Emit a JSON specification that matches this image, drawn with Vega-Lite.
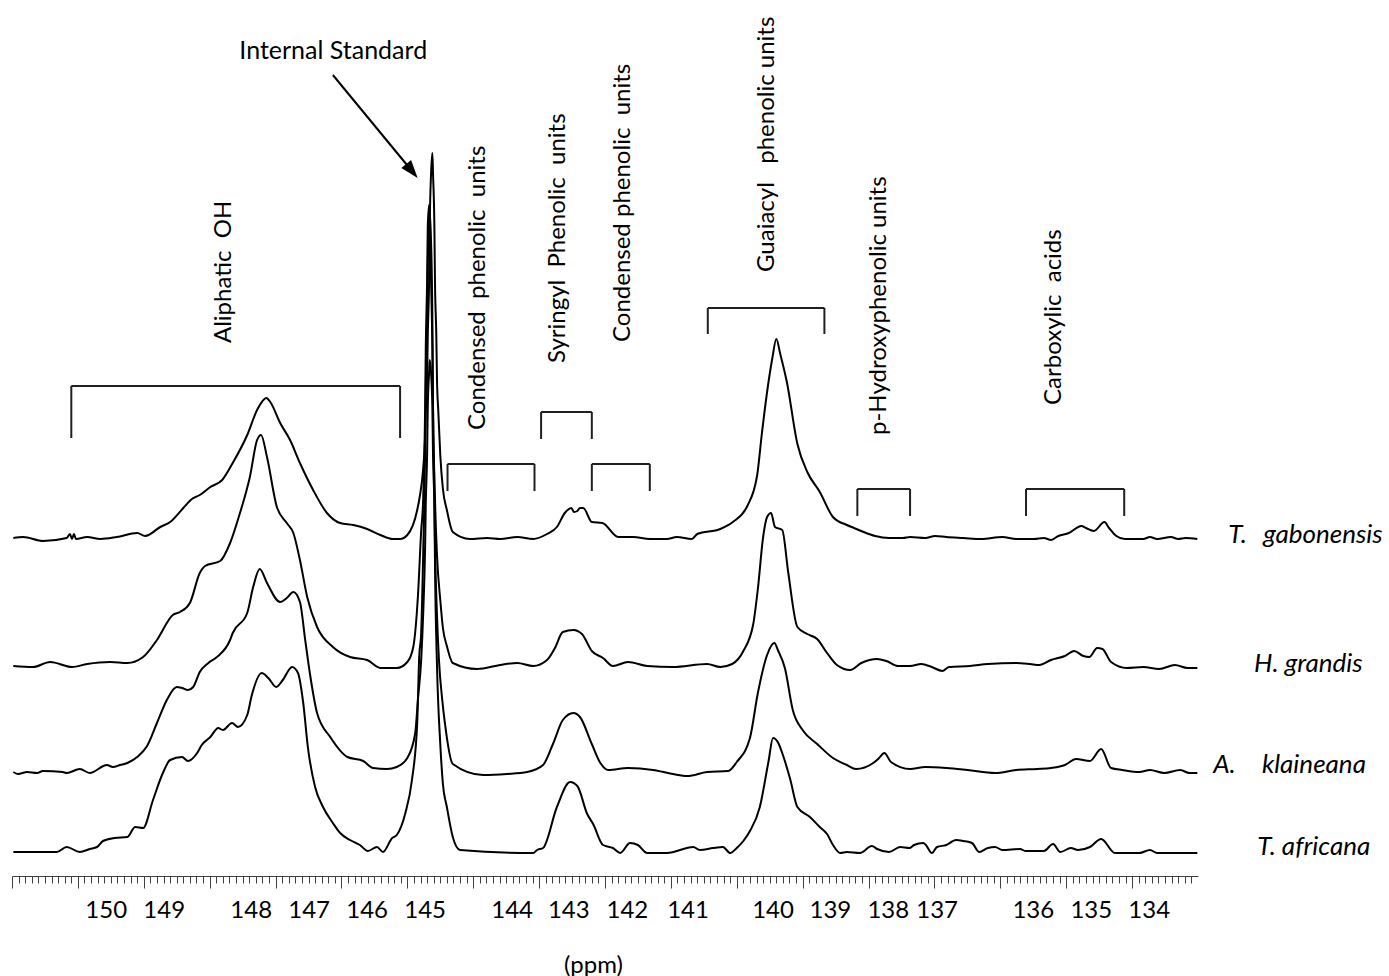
{
  "$schema": "https://vega.github.io/schema/vega-lite/v6.json",
  "width": 1186,
  "height": 876,
  "autosize": {"type": "none"},
  "padding": {"left": 12, "top": 0, "right": 191, "bottom": 100},
  "background": "white",
  "config": {"view": {"stroke": null}},
  "datasets": {
    "spectra": [
      {"sample":"T. gabonensis","ppm":151.38,"intensity":338},{"sample":"T. gabonensis","ppm":151.23,"intensity":339},{"sample":"T. gabonensis","ppm":150.93,"intensity":335},{"sample":"T. gabonensis","ppm":150.57,"intensity":338},{"sample":"T. gabonensis","ppm":150.52,"intensity":342},{"sample":"T. gabonensis","ppm":150.49,"intensity":337},{"sample":"T. gabonensis","ppm":150.46,"intensity":342},{"sample":"T. gabonensis","ppm":150.43,"intensity":337},{"sample":"T. gabonensis","ppm":150.26,"intensity":339},{"sample":"T. gabonensis","ppm":150.06,"intensity":337},{"sample":"T. gabonensis","ppm":149.81,"intensity":339},{"sample":"T. gabonensis","ppm":149.50,"intensity":343},{"sample":"T. gabonensis","ppm":149.38,"intensity":340},{"sample":"T. gabonensis","ppm":149.15,"intensity":349},{"sample":"T. gabonensis","ppm":149.00,"intensity":354},{"sample":"T. gabonensis","ppm":148.80,"intensity":368},{"sample":"T. gabonensis","ppm":148.67,"intensity":377},{"sample":"T. gabonensis","ppm":148.55,"intensity":381},{"sample":"T. gabonensis","ppm":148.39,"intensity":389},{"sample":"T. gabonensis","ppm":148.21,"intensity":396},{"sample":"T. gabonensis","ppm":148.05,"intensity":413},{"sample":"T. gabonensis","ppm":147.83,"intensity":441},{"sample":"T. gabonensis","ppm":147.68,"intensity":466},{"sample":"T. gabonensis","ppm":147.54,"intensity":478},{"sample":"T. gabonensis","ppm":147.48,"intensity":474},{"sample":"T. gabonensis","ppm":147.33,"intensity":453},{"sample":"T. gabonensis","ppm":147.18,"intensity":436},{"sample":"T. gabonensis","ppm":147.03,"intensity":413},{"sample":"T. gabonensis","ppm":146.83,"intensity":386},{"sample":"T. gabonensis","ppm":146.62,"intensity":363},{"sample":"T. gabonensis","ppm":146.42,"intensity":353},{"sample":"T. gabonensis","ppm":146.22,"intensity":351},{"sample":"T. gabonensis","ppm":146.01,"intensity":347},{"sample":"T. gabonensis","ppm":145.81,"intensity":341},{"sample":"T. gabonensis","ppm":145.62,"intensity":337},{"sample":"T. gabonensis","ppm":145.51,"intensity":337},{"sample":"T. gabonensis","ppm":145.40,"intensity":341},{"sample":"T. gabonensis","ppm":145.25,"intensity":366},{"sample":"T. gabonensis","ppm":145.21,"intensity":380},{"sample":"T. gabonensis","ppm":145.16,"intensity":407},{"sample":"T. gabonensis","ppm":145.13,"intensity":440},{"sample":"T. gabonensis","ppm":145.12,"intensity":465},{"sample":"T. gabonensis","ppm":145.10,"intensity":497},{"sample":"T. gabonensis","ppm":145.09,"intensity":540},{"sample":"T. gabonensis","ppm":145.07,"intensity":593},{"sample":"T. gabonensis","ppm":145.06,"intensity":652},{"sample":"T. gabonensis","ppm":145.04,"intensity":702},{"sample":"T. gabonensis","ppm":145.02,"intensity":723},{"sample":"T. gabonensis","ppm":145.01,"intensity":702},{"sample":"T. gabonensis","ppm":144.99,"intensity":652},{"sample":"T. gabonensis","ppm":144.98,"intensity":593},{"sample":"T. gabonensis","ppm":144.96,"intensity":540},{"sample":"T. gabonensis","ppm":144.95,"intensity":497},{"sample":"T. gabonensis","ppm":144.93,"intensity":465},{"sample":"T. gabonensis","ppm":144.90,"intensity":421},{"sample":"T. gabonensis","ppm":144.86,"intensity":387},{"sample":"T. gabonensis","ppm":144.80,"intensity":366},{"sample":"T. gabonensis","ppm":144.71,"intensity":344},{"sample":"T. gabonensis","ppm":144.45,"intensity":337},{"sample":"T. gabonensis","ppm":144.19,"intensity":338},{"sample":"T. gabonensis","ppm":143.99,"intensity":337},{"sample":"T. gabonensis","ppm":143.73,"intensity":339},{"sample":"T. gabonensis","ppm":143.49,"intensity":337},{"sample":"T. gabonensis","ppm":143.28,"intensity":342},{"sample":"T. gabonensis","ppm":143.13,"intensity":349},{"sample":"T. gabonensis","ppm":143.01,"intensity":363},{"sample":"T. gabonensis","ppm":142.91,"intensity":368},{"sample":"T. gabonensis","ppm":142.87,"intensity":364},{"sample":"T. gabonensis","ppm":142.82,"intensity":365},{"sample":"T. gabonensis","ppm":142.78,"intensity":368},{"sample":"T. gabonensis","ppm":142.73,"intensity":368},{"sample":"T. gabonensis","ppm":142.60,"intensity":354},{"sample":"T. gabonensis","ppm":142.44,"intensity":353},{"sample":"T. gabonensis","ppm":142.20,"intensity":339},{"sample":"T. gabonensis","ppm":141.97,"intensity":339},{"sample":"T. gabonensis","ppm":141.72,"intensity":337},{"sample":"T. gabonensis","ppm":141.46,"intensity":337},{"sample":"T. gabonensis","ppm":141.31,"intensity":339},{"sample":"T. gabonensis","ppm":141.08,"intensity":337},{"sample":"T. gabonensis","ppm":141.00,"intensity":342},{"sample":"T. gabonensis","ppm":140.65,"intensity":347},{"sample":"T. gabonensis","ppm":140.46,"intensity":354},{"sample":"T. gabonensis","ppm":140.24,"intensity":370},{"sample":"T. gabonensis","ppm":140.09,"intensity":401},{"sample":"T. gabonensis","ppm":140.02,"intensity":442},{"sample":"T. gabonensis","ppm":139.94,"intensity":484},{"sample":"T. gabonensis","ppm":139.86,"intensity":518},{"sample":"T. gabonensis","ppm":139.80,"intensity":537},{"sample":"T. gabonensis","ppm":139.74,"intensity":522},{"sample":"T. gabonensis","ppm":139.64,"intensity":494},{"sample":"T. gabonensis","ppm":139.48,"intensity":432},{"sample":"T. gabonensis","ppm":139.33,"intensity":404},{"sample":"T. gabonensis","ppm":139.14,"intensity":384},{"sample":"T. gabonensis","ppm":138.94,"intensity":359},{"sample":"T. gabonensis","ppm":138.73,"intensity":351},{"sample":"T. gabonensis","ppm":138.62,"intensity":348},{"sample":"T. gabonensis","ppm":138.51,"intensity":345},{"sample":"T. gabonensis","ppm":138.30,"intensity":340},{"sample":"T. gabonensis","ppm":138.09,"intensity":338},{"sample":"T. gabonensis","ppm":137.88,"intensity":338},{"sample":"T. gabonensis","ppm":137.77,"intensity":339},{"sample":"T. gabonensis","ppm":137.54,"intensity":338},{"sample":"T. gabonensis","ppm":137.39,"intensity":340},{"sample":"T. gabonensis","ppm":137.22,"intensity":339},{"sample":"T. gabonensis","ppm":136.96,"intensity":338},{"sample":"T. gabonensis","ppm":136.69,"intensity":337},{"sample":"T. gabonensis","ppm":136.37,"intensity":339},{"sample":"T. gabonensis","ppm":136.16,"intensity":337},{"sample":"T. gabonensis","ppm":135.89,"intensity":337},{"sample":"T. gabonensis","ppm":135.74,"intensity":338},{"sample":"T. gabonensis","ppm":135.63,"intensity":336},{"sample":"T. gabonensis","ppm":135.52,"intensity":340},{"sample":"T. gabonensis","ppm":135.36,"intensity":343},{"sample":"T. gabonensis","ppm":135.17,"intensity":350},{"sample":"T. gabonensis","ppm":135.10,"intensity":348},{"sample":"T. gabonensis","ppm":134.98,"intensity":345},{"sample":"T. gabonensis","ppm":134.82,"intensity":354},{"sample":"T. gabonensis","ppm":134.75,"intensity":348},{"sample":"T. gabonensis","ppm":134.64,"intensity":340},{"sample":"T. gabonensis","ppm":134.51,"intensity":337},{"sample":"T. gabonensis","ppm":134.23,"intensity":337},{"sample":"T. gabonensis","ppm":134.13,"intensity":339},{"sample":"T. gabonensis","ppm":134.02,"intensity":337},{"sample":"T. gabonensis","ppm":133.81,"intensity":339},{"sample":"T. gabonensis","ppm":133.70,"intensity":337},{"sample":"T. gabonensis","ppm":133.59,"intensity":338},{"sample":"T. gabonensis","ppm":133.41,"intensity":337},

      {"sample":"H. grandis","ppm":151.38,"intensity":210},{"sample":"H. grandis","ppm":151.08,"intensity":209},{"sample":"H. grandis","ppm":150.82,"intensity":214},{"sample":"H. grandis","ppm":150.49,"intensity":209},{"sample":"H. grandis","ppm":150.26,"intensity":212},{"sample":"H. grandis","ppm":149.91,"intensity":214},{"sample":"H. grandis","ppm":149.65,"intensity":213},{"sample":"H. grandis","ppm":149.41,"intensity":219},{"sample":"H. grandis","ppm":149.20,"intensity":236},{"sample":"H. grandis","ppm":148.96,"intensity":261},{"sample":"H. grandis","ppm":148.85,"intensity":264},{"sample":"H. grandis","ppm":148.70,"intensity":273},{"sample":"H. grandis","ppm":148.55,"intensity":303},{"sample":"H. grandis","ppm":148.47,"intensity":310},{"sample":"H. grandis","ppm":148.24,"intensity":315},{"sample":"H. grandis","ppm":148.09,"intensity":333},{"sample":"H. grandis","ppm":147.94,"intensity":363},{"sample":"H. grandis","ppm":147.79,"intensity":399},{"sample":"H. grandis","ppm":147.68,"intensity":436},{"sample":"H. grandis","ppm":147.62,"intensity":441},{"sample":"H. grandis","ppm":147.53,"intensity":419},{"sample":"H. grandis","ppm":147.38,"intensity":369},{"sample":"H. grandis","ppm":147.23,"intensity":353},{"sample":"H. grandis","ppm":147.13,"intensity":343},{"sample":"H. grandis","ppm":147.03,"intensity":316},{"sample":"H. grandis","ppm":146.92,"intensity":279},{"sample":"H. grandis","ppm":146.77,"intensity":249},{"sample":"H. grandis","ppm":146.53,"intensity":229},{"sample":"H. grandis","ppm":146.27,"intensity":219},{"sample":"H. grandis","ppm":146.01,"intensity":216},{"sample":"H. grandis","ppm":145.81,"intensity":208},{"sample":"H. grandis","ppm":145.56,"intensity":208},{"sample":"H. grandis","ppm":145.40,"intensity":214},{"sample":"H. grandis","ppm":145.31,"intensity":229},{"sample":"H. grandis","ppm":145.24,"intensity":279},{"sample":"H. grandis","ppm":145.19,"intensity":345},{"sample":"H. grandis","ppm":145.16,"intensity":376},{"sample":"H. grandis","ppm":145.13,"intensity":468},{"sample":"H. grandis","ppm":145.12,"intensity":529},{"sample":"H. grandis","ppm":145.10,"intensity":595},{"sample":"H. grandis","ppm":145.09,"intensity":649},{"sample":"H. grandis","ppm":145.07,"intensity":671},{"sample":"H. grandis","ppm":145.06,"intensity":649},{"sample":"H. grandis","ppm":145.04,"intensity":595},{"sample":"H. grandis","ppm":145.02,"intensity":529},{"sample":"H. grandis","ppm":145.01,"intensity":468},{"sample":"H. grandis","ppm":144.98,"intensity":376},{"sample":"H. grandis","ppm":144.95,"intensity":321},{"sample":"H. grandis","ppm":144.90,"intensity":276},{"sample":"H. grandis","ppm":144.86,"intensity":248},{"sample":"H. grandis","ppm":144.80,"intensity":230},{"sample":"H. grandis","ppm":144.71,"intensity":213},{"sample":"H. grandis","ppm":144.34,"intensity":207},{"sample":"H. grandis","ppm":143.99,"intensity":211},{"sample":"H. grandis","ppm":143.73,"intensity":213},{"sample":"H. grandis","ppm":143.49,"intensity":210},{"sample":"H. grandis","ppm":143.28,"intensity":216},{"sample":"H. grandis","ppm":143.16,"intensity":228},{"sample":"H. grandis","ppm":143.04,"intensity":244},{"sample":"H. grandis","ppm":142.88,"intensity":246},{"sample":"H. grandis","ppm":142.75,"intensity":242},{"sample":"H. grandis","ppm":142.60,"intensity":225},{"sample":"H. grandis","ppm":142.43,"intensity":218},{"sample":"H. grandis","ppm":142.28,"intensity":210},{"sample":"H. grandis","ppm":142.05,"intensity":214},{"sample":"H. grandis","ppm":141.76,"intensity":210},{"sample":"H. grandis","ppm":141.37,"intensity":209},{"sample":"H. grandis","ppm":140.85,"intensity":212},{"sample":"H. grandis","ppm":140.65,"intensity":209},{"sample":"H. grandis","ppm":140.47,"intensity":212},{"sample":"H. grandis","ppm":140.30,"intensity":225},{"sample":"H. grandis","ppm":140.15,"intensity":252},{"sample":"H. grandis","ppm":140.08,"intensity":287},{"sample":"H. grandis","ppm":140.00,"intensity":339},{"sample":"H. grandis","ppm":139.94,"intensity":359},{"sample":"H. grandis","ppm":139.88,"intensity":363},{"sample":"H. grandis","ppm":139.82,"intensity":349},{"sample":"H. grandis","ppm":139.71,"intensity":346},{"sample":"H. grandis","ppm":139.62,"intensity":304},{"sample":"H. grandis","ppm":139.48,"intensity":249},{"sample":"H. grandis","ppm":139.33,"intensity":242},{"sample":"H. grandis","ppm":139.18,"intensity":237},{"sample":"H. grandis","ppm":139.03,"intensity":223},{"sample":"H. grandis","ppm":138.88,"intensity":211},{"sample":"H. grandis","ppm":138.68,"intensity":206},{"sample":"H. grandis","ppm":138.51,"intensity":213},{"sample":"H. grandis","ppm":138.27,"intensity":217},{"sample":"H. grandis","ppm":138.13,"intensity":215},{"sample":"H. grandis","ppm":137.95,"intensity":210},{"sample":"H. grandis","ppm":137.77,"intensity":210},{"sample":"H. grandis","ppm":137.60,"intensity":212},{"sample":"H. grandis","ppm":137.44,"intensity":209},{"sample":"H. grandis","ppm":137.28,"intensity":205},{"sample":"H. grandis","ppm":137.18,"intensity":209},{"sample":"H. grandis","ppm":136.86,"intensity":210},{"sample":"H. grandis","ppm":136.59,"intensity":212},{"sample":"H. grandis","ppm":136.16,"intensity":213},{"sample":"H. grandis","ppm":135.95,"intensity":212},{"sample":"H. grandis","ppm":135.81,"intensity":211},{"sample":"H. grandis","ppm":135.63,"intensity":216},{"sample":"H. grandis","ppm":135.42,"intensity":220},{"sample":"H. grandis","ppm":135.28,"intensity":225},{"sample":"H. grandis","ppm":135.14,"intensity":220},{"sample":"H. grandis","ppm":135.05,"intensity":219},{"sample":"H. grandis","ppm":134.93,"intensity":228},{"sample":"H. grandis","ppm":134.85,"intensity":227},{"sample":"H. grandis","ppm":134.72,"intensity":214},{"sample":"H. grandis","ppm":134.48,"intensity":208},{"sample":"H. grandis","ppm":134.23,"intensity":209},{"sample":"H. grandis","ppm":133.99,"intensity":207},{"sample":"H. grandis","ppm":133.75,"intensity":211},{"sample":"H. grandis","ppm":133.56,"intensity":208},{"sample":"H. grandis","ppm":133.41,"intensity":208},

      {"sample":"A. klaineana","ppm":151.38,"intensity":104},{"sample":"A. klaineana","ppm":151.31,"intensity":102},{"sample":"A. klaineana","ppm":151.17,"intensity":104},{"sample":"A. klaineana","ppm":151.02,"intensity":103},{"sample":"A. klaineana","ppm":150.93,"intensity":105},{"sample":"A. klaineana","ppm":150.63,"intensity":104},{"sample":"A. klaineana","ppm":150.57,"intensity":103},{"sample":"A. klaineana","ppm":150.37,"intensity":107},{"sample":"A. klaineana","ppm":150.22,"intensity":103},{"sample":"A. klaineana","ppm":149.96,"intensity":111},{"sample":"A. klaineana","ppm":149.87,"intensity":109},{"sample":"A. klaineana","ppm":149.76,"intensity":111},{"sample":"A. klaineana","ppm":149.65,"intensity":113},{"sample":"A. klaineana","ppm":149.50,"intensity":119},{"sample":"A. klaineana","ppm":149.35,"intensity":130},{"sample":"A. klaineana","ppm":149.20,"intensity":153},{"sample":"A. klaineana","ppm":149.05,"intensity":176},{"sample":"A. klaineana","ppm":148.90,"intensity":189},{"sample":"A. klaineana","ppm":148.82,"intensity":188},{"sample":"A. klaineana","ppm":148.73,"intensity":186},{"sample":"A. klaineana","ppm":148.65,"intensity":189},{"sample":"A. klaineana","ppm":148.55,"intensity":204},{"sample":"A. klaineana","ppm":148.42,"intensity":213},{"sample":"A. klaineana","ppm":148.29,"intensity":219},{"sample":"A. klaineana","ppm":148.09,"intensity":236},{"sample":"A. klaineana","ppm":148.05,"intensity":243},{"sample":"A. klaineana","ppm":147.83,"intensity":263},{"sample":"A. klaineana","ppm":147.74,"intensity":289},{"sample":"A. klaineana","ppm":147.64,"intensity":307},{"sample":"A. klaineana","ppm":147.53,"intensity":293},{"sample":"A. klaineana","ppm":147.33,"intensity":274},{"sample":"A. klaineana","ppm":147.23,"intensity":278},{"sample":"A. klaineana","ppm":147.13,"intensity":284},{"sample":"A. klaineana","ppm":147.03,"intensity":274},{"sample":"A. klaineana","ppm":146.95,"intensity":236},{"sample":"A. klaineana","ppm":146.88,"intensity":203},{"sample":"A. klaineana","ppm":146.77,"intensity":163},{"sample":"A. klaineana","ppm":146.57,"intensity":139},{"sample":"A. klaineana","ppm":146.31,"intensity":119},{"sample":"A. klaineana","ppm":146.07,"intensity":115},{"sample":"A. klaineana","ppm":145.92,"intensity":108},{"sample":"A. klaineana","ppm":145.71,"intensity":107},{"sample":"A. klaineana","ppm":145.56,"intensity":109},{"sample":"A. klaineana","ppm":145.40,"intensity":118},{"sample":"A. klaineana","ppm":145.28,"intensity":143},{"sample":"A. klaineana","ppm":145.24,"intensity":176},{"sample":"A. klaineana","ppm":145.19,"intensity":216},{"sample":"A. klaineana","ppm":145.16,"intensity":261},{"sample":"A. klaineana","ppm":145.13,"intensity":330},{"sample":"A. klaineana","ppm":145.12,"intensity":373},{"sample":"A. klaineana","ppm":145.10,"intensity":421},{"sample":"A. klaineana","ppm":145.09,"intensity":468},{"sample":"A. klaineana","ppm":145.07,"intensity":503},{"sample":"A. klaineana","ppm":145.06,"intensity":516},{"sample":"A. klaineana","ppm":145.04,"intensity":503},{"sample":"A. klaineana","ppm":145.02,"intensity":468},{"sample":"A. klaineana","ppm":145.01,"intensity":421},{"sample":"A. klaineana","ppm":144.99,"intensity":373},{"sample":"A. klaineana","ppm":144.98,"intensity":330},{"sample":"A. klaineana","ppm":144.95,"intensity":261},{"sample":"A. klaineana","ppm":144.92,"intensity":216},{"sample":"A. klaineana","ppm":144.87,"intensity":176},{"sample":"A. klaineana","ppm":144.83,"intensity":153},{"sample":"A. klaineana","ppm":144.71,"intensity":112},{"sample":"A. klaineana","ppm":144.25,"intensity":101},{"sample":"A. klaineana","ppm":143.89,"intensity":102},{"sample":"A. klaineana","ppm":143.58,"intensity":104},{"sample":"A. klaineana","ppm":143.34,"intensity":111},{"sample":"A. klaineana","ppm":143.19,"intensity":132},{"sample":"A. klaineana","ppm":143.04,"intensity":156},{"sample":"A. klaineana","ppm":142.88,"intensity":163},{"sample":"A. klaineana","ppm":142.78,"intensity":159},{"sample":"A. klaineana","ppm":142.60,"intensity":132},{"sample":"A. klaineana","ppm":142.47,"intensity":113},{"sample":"A. klaineana","ppm":142.35,"intensity":106},{"sample":"A. klaineana","ppm":142.05,"intensity":108},{"sample":"A. klaineana","ppm":141.67,"intensity":106},{"sample":"A. klaineana","ppm":141.37,"intensity":102},{"sample":"A. klaineana","ppm":141.15,"intensity":100},{"sample":"A. klaineana","ppm":140.85,"intensity":104},{"sample":"A. klaineana","ppm":140.53,"intensity":105},{"sample":"A. klaineana","ppm":140.40,"intensity":114},{"sample":"A. klaineana","ppm":140.20,"intensity":138},{"sample":"A. klaineana","ppm":140.08,"intensity":183},{"sample":"A. klaineana","ppm":139.94,"intensity":221},{"sample":"A. klaineana","ppm":139.83,"intensity":233},{"sample":"A. klaineana","ppm":139.77,"intensity":225},{"sample":"A. klaineana","ppm":139.67,"intensity":208},{"sample":"A. klaineana","ppm":139.55,"intensity":166},{"sample":"A. klaineana","ppm":139.39,"intensity":145},{"sample":"A. klaineana","ppm":139.18,"intensity":132},{"sample":"A. klaineana","ppm":138.94,"intensity":118},{"sample":"A. klaineana","ppm":138.73,"intensity":111},{"sample":"A. klaineana","ppm":138.59,"intensity":107},{"sample":"A. klaineana","ppm":138.33,"intensity":113},{"sample":"A. klaineana","ppm":138.24,"intensity":118},{"sample":"A. klaineana","ppm":138.16,"intensity":123},{"sample":"A. klaineana","ppm":138.06,"intensity":114},{"sample":"A. klaineana","ppm":137.77,"intensity":107},{"sample":"A. klaineana","ppm":137.54,"intensity":109},{"sample":"A. klaineana","ppm":137.22,"intensity":108},{"sample":"A. klaineana","ppm":136.90,"intensity":106},{"sample":"A. klaineana","ppm":136.48,"intensity":103},{"sample":"A. klaineana","ppm":136.16,"intensity":106},{"sample":"A. klaineana","ppm":135.84,"intensity":107},{"sample":"A. klaineana","ppm":135.63,"intensity":108},{"sample":"A. klaineana","ppm":135.42,"intensity":111},{"sample":"A. klaineana","ppm":135.25,"intensity":117},{"sample":"A. klaineana","ppm":135.04,"intensity":115},{"sample":"A. klaineana","ppm":134.87,"intensity":127},{"sample":"A. klaineana","ppm":134.72,"intensity":108},{"sample":"A. klaineana","ppm":134.55,"intensity":106},{"sample":"A. klaineana","ppm":134.29,"intensity":104},{"sample":"A. klaineana","ppm":134.13,"intensity":106},{"sample":"A. klaineana","ppm":133.91,"intensity":103},{"sample":"A. klaineana","ppm":133.67,"intensity":106},{"sample":"A. klaineana","ppm":133.53,"intensity":103},{"sample":"A. klaineana","ppm":133.41,"intensity":103},

      {"sample":"T. africana","ppm":151.38,"intensity":24},{"sample":"T. africana","ppm":150.72,"intensity":24},{"sample":"T. africana","ppm":150.57,"intensity":29},{"sample":"T. africana","ppm":150.37,"intensity":24},{"sample":"T. africana","ppm":150.22,"intensity":27},{"sample":"T. africana","ppm":150.11,"intensity":29},{"sample":"T. africana","ppm":150.02,"intensity":35},{"sample":"T. africana","ppm":149.84,"intensity":38},{"sample":"T. africana","ppm":149.65,"intensity":39},{"sample":"T. africana","ppm":149.53,"intensity":49},{"sample":"T. africana","ppm":149.41,"intensity":48},{"sample":"T. africana","ppm":149.26,"intensity":76},{"sample":"T. africana","ppm":149.11,"intensity":103},{"sample":"T. africana","ppm":149.00,"intensity":116},{"sample":"T. africana","ppm":148.82,"intensity":119},{"sample":"T. africana","ppm":148.73,"intensity":115},{"sample":"T. africana","ppm":148.59,"intensity":123},{"sample":"T. africana","ppm":148.52,"intensity":131},{"sample":"T. africana","ppm":148.39,"intensity":139},{"sample":"T. africana","ppm":148.27,"intensity":148},{"sample":"T. africana","ppm":148.20,"intensity":146},{"sample":"T. africana","ppm":148.06,"intensity":153},{"sample":"T. africana","ppm":147.97,"intensity":149},{"sample":"T. africana","ppm":147.83,"intensity":161},{"sample":"T. africana","ppm":147.76,"intensity":181},{"sample":"T. africana","ppm":147.61,"intensity":203},{"sample":"T. africana","ppm":147.51,"intensity":198},{"sample":"T. africana","ppm":147.39,"intensity":189},{"sample":"T. africana","ppm":147.29,"intensity":196},{"sample":"T. africana","ppm":147.15,"intensity":209},{"sample":"T. africana","ppm":147.06,"intensity":203},{"sample":"T. africana","ppm":146.98,"intensity":173},{"sample":"T. africana","ppm":146.91,"intensity":129},{"sample":"T. africana","ppm":146.80,"intensity":89},{"sample":"T. africana","ppm":146.68,"intensity":69},{"sample":"T. africana","ppm":146.53,"intensity":53},{"sample":"T. africana","ppm":146.42,"intensity":43},{"sample":"T. africana","ppm":146.27,"intensity":36},{"sample":"T. africana","ppm":146.12,"intensity":31},{"sample":"T. africana","ppm":146.00,"intensity":25},{"sample":"T. africana","ppm":145.86,"intensity":29},{"sample":"T. africana","ppm":145.77,"intensity":24},{"sample":"T. africana","ppm":145.63,"intensity":38},{"sample":"T. africana","ppm":145.56,"intensity":41},{"sample":"T. africana","ppm":145.43,"intensity":63},{"sample":"T. africana","ppm":145.33,"intensity":96},{"sample":"T. africana","ppm":145.25,"intensity":153},{"sample":"T. africana","ppm":145.22,"intensity":219},{"sample":"T. africana","ppm":145.19,"intensity":243},{"sample":"T. africana","ppm":145.16,"intensity":320},{"sample":"T. africana","ppm":145.13,"intensity":426},{"sample":"T. africana","ppm":145.12,"intensity":488},{"sample":"T. africana","ppm":145.10,"intensity":552},{"sample":"T. africana","ppm":145.09,"intensity":609},{"sample":"T. africana","ppm":145.07,"intensity":649},{"sample":"T. africana","ppm":145.06,"intensity":664},{"sample":"T. africana","ppm":145.04,"intensity":634},{"sample":"T. africana","ppm":145.02,"intensity":558},{"sample":"T. africana","ppm":145.01,"intensity":467},{"sample":"T. africana","ppm":144.99,"intensity":382},{"sample":"T. africana","ppm":144.98,"intensity":311},{"sample":"T. africana","ppm":144.95,"intensity":211},{"sample":"T. africana","ppm":144.90,"intensity":132},{"sample":"T. africana","ppm":144.86,"intensity":92},{"sample":"T. africana","ppm":144.80,"intensity":69},{"sample":"T. africana","ppm":144.71,"intensity":39},{"sample":"T. africana","ppm":144.60,"intensity":26},{"sample":"T. africana","ppm":143.49,"intensity":23},{"sample":"T. africana","ppm":143.43,"intensity":26},{"sample":"T. africana","ppm":143.34,"intensity":28},{"sample":"T. africana","ppm":143.13,"intensity":69},{"sample":"T. africana","ppm":142.93,"intensity":94},{"sample":"T. africana","ppm":142.82,"intensity":90},{"sample":"T. africana","ppm":142.67,"intensity":62},{"sample":"T. africana","ppm":142.58,"intensity":52},{"sample":"T. africana","ppm":142.43,"intensity":31},{"sample":"T. africana","ppm":142.28,"intensity":28},{"sample":"T. africana","ppm":142.17,"intensity":23},{"sample":"T. africana","ppm":142.02,"intensity":33},{"sample":"T. africana","ppm":141.90,"intensity":31},{"sample":"T. africana","ppm":141.76,"intensity":23},{"sample":"T. africana","ppm":141.46,"intensity":23},{"sample":"T. africana","ppm":141.06,"intensity":29},{"sample":"T. africana","ppm":140.96,"intensity":26},{"sample":"T. africana","ppm":140.76,"intensity":28},{"sample":"T. africana","ppm":140.61,"intensity":29},{"sample":"T. africana","ppm":140.50,"intensity":23},{"sample":"T. africana","ppm":140.40,"intensity":28},{"sample":"T. africana","ppm":140.30,"intensity":35},{"sample":"T. africana","ppm":140.20,"intensity":45},{"sample":"T. africana","ppm":140.05,"intensity":69},{"sample":"T. africana","ppm":139.92,"intensity":114},{"sample":"T. africana","ppm":139.85,"intensity":138},{"sample":"T. africana","ppm":139.77,"intensity":133},{"sample":"T. africana","ppm":139.70,"intensity":121},{"sample":"T. africana","ppm":139.59,"intensity":97},{"sample":"T. africana","ppm":139.48,"intensity":69},{"sample":"T. africana","ppm":139.29,"intensity":59},{"sample":"T. africana","ppm":139.14,"intensity":49},{"sample":"T. africana","ppm":139.03,"intensity":42},{"sample":"T. africana","ppm":138.94,"intensity":31},{"sample":"T. africana","ppm":138.83,"intensity":23},{"sample":"T. africana","ppm":138.73,"intensity":24},{"sample":"T. africana","ppm":138.53,"intensity":23},{"sample":"T. africana","ppm":138.35,"intensity":30},{"sample":"T. africana","ppm":138.27,"intensity":27},{"sample":"T. africana","ppm":138.09,"intensity":24},{"sample":"T. africana","ppm":137.92,"intensity":29},{"sample":"T. africana","ppm":137.78,"intensity":28},{"sample":"T. africana","ppm":137.71,"intensity":31},{"sample":"T. africana","ppm":137.57,"intensity":33},{"sample":"T. africana","ppm":137.53,"intensity":31},{"sample":"T. africana","ppm":137.44,"intensity":23},{"sample":"T. africana","ppm":137.36,"intensity":29},{"sample":"T. africana","ppm":137.22,"intensity":31},{"sample":"T. africana","ppm":137.07,"intensity":36},{"sample":"T. africana","ppm":136.96,"intensity":35},{"sample":"T. africana","ppm":136.83,"intensity":33},{"sample":"T. africana","ppm":136.72,"intensity":24},{"sample":"T. africana","ppm":136.59,"intensity":28},{"sample":"T. africana","ppm":136.48,"intensity":29},{"sample":"T. africana","ppm":136.37,"intensity":26},{"sample":"T. africana","ppm":136.10,"intensity":27},{"sample":"T. africana","ppm":136.02,"intensity":25},{"sample":"T. africana","ppm":135.74,"intensity":25},{"sample":"T. africana","ppm":135.60,"intensity":32},{"sample":"T. africana","ppm":135.49,"intensity":24},{"sample":"T. africana","ppm":135.33,"intensity":28},{"sample":"T. africana","ppm":135.22,"intensity":26},{"sample":"T. africana","ppm":135.04,"intensity":29},{"sample":"T. africana","ppm":134.87,"intensity":37},{"sample":"T. africana","ppm":134.66,"intensity":23},{"sample":"T. africana","ppm":134.29,"intensity":23},{"sample":"T. africana","ppm":134.13,"intensity":26},{"sample":"T. africana","ppm":134.02,"intensity":23},{"sample":"T. africana","ppm":133.41,"intensity":23}
    ],
    "brackets": [
      {"region":"Aliphatic OH","from":150.50,"to":145.51,"top":490,"bottom":438},
      {"region":"Condensed phenolic units","from":144.79,"to":143.47,"top":412,"bottom":385},
      {"region":"Syringyl Phenolic units","from":143.37,"to":142.60,"top":464,"bottom":437},
      {"region":"Condensed phenolic units 2","from":142.60,"to":141.72,"top":412,"bottom":385},
      {"region":"Guaiacyl phenolic units","from":140.84,"to":139.07,"top":568,"bottom":542},
      {"region":"p-Hydroxyphenolic units","from":138.57,"to":137.77,"top":387,"bottom":360},
      {"region":"Carboxylic acids","from":136.01,"to":134.52,"top":387,"bottom":360}
    ],
    "regionLabels": [
      {"text":"Aliphatic\u00a0 OH","ppm":148.19,"intensity":533},
      {"text":"Condensed\u00a0 phenolic\u00a0 units","ppm":144.33,"intensity":446},
      {"text":"Syringyl\u00a0 Phenolic\u00a0 units","ppm":143.12,"intensity":513},
      {"text":"Condensed phenolic\u00a0 units","ppm":142.13,"intensity":534},
      {"text":"Guaiacyl\u00a0\u00a0 phenolic units","ppm":139.94,"intensity":604},
      {"text":"p-Hydroxyphenolic units","ppm":138.24,"intensity":441},
      {"text":"Carboxylic\u00a0 acids","ppm":135.58,"intensity":471}
    ],
    "sampleLabels": [
      {"text":"T.","ppm":132.94,"intensity":333},
      {"text":"gabonensis","ppm":132.41,"intensity":333},
      {"text":"H. grandis","ppm":132.55,"intensity":204},
      {"text":"A.","ppm":133.17,"intensity":103},
      {"text":"klaineana","ppm":132.43,"intensity":103},
      {"text":"T. africana","ppm":132.50,"intensity":21}
    ],
    "tickLabels": [
      {"t":"150","ppm":149.97},{"t":"149","ppm":149.09},{"t":"148","ppm":147.77},{"t":"147","ppm":146.89},{"t":"146","ppm":146.01},{"t":"145","ppm":145.13},{"t":"144","ppm":143.81},{"t":"143","ppm":142.95},{"t":"142","ppm":142.06},{"t":"141","ppm":141.14},{"t":"140","ppm":139.85},{"t":"139","ppm":138.98},{"t":"138","ppm":138.10},{"t":"137","ppm":137.36},{"t":"136","ppm":135.90},{"t":"135","ppm":135.02},{"t":"134","ppm":134.14}
    ],
    "standard": [
      {"text":"Internal Standard","ppm":147.95,"intensity":817,"fromPpm":146.53,"fromIntensity":801,"tipPpm":145.33,"tipIntensity":705,"angle":140.6}
    ]
  },
  "layer": [
    {
      "data": {"name": "spectra"},
      "mark": {"type": "line", "color": "#000000", "strokeWidth": 2, "strokeJoin": "round", "interpolate": "monotone"},
      "encoding": {
        "x": {"field": "ppm", "type": "quantitative",
          "scale": {"domain": [133.4, 151.4], "reverse": true, "nice": false, "zero": false},
          "axis": {
            "values": [151.4,151.3,151.2,151.1,151,150.9,150.8,150.7,150.6,150.5,150.4,150.3,150.2,150.1,150,149.9,149.8,149.7,149.6,149.5,149.4,149.3,149.2,149.1,149,148.9,148.8,148.7,148.6,148.5,148.4,148.3,148.2,148.1,148,147.9,147.8,147.7,147.6,147.5,147.4,147.3,147.2,147.1,147,146.9,146.8,146.7,146.6,146.5,146.4,146.3,146.2,146.1,146,145.9,145.8,145.7,145.6,145.5,145.4,145.3,145.2,145.1,145,144.9,144.8,144.7,144.6,144.5,144.4,144.3,144.2,144.1,144,143.9,143.8,143.7,143.6,143.5,143.4,143.3,143.2,143.1,143,142.9,142.8,142.7,142.6,142.5,142.4,142.3,142.2,142.1,142,141.9,141.8,141.7,141.6,141.5,141.4,141.3,141.2,141.1,141,140.9,140.8,140.7,140.6,140.5,140.4,140.3,140.2,140.1,140,139.9,139.8,139.7,139.6,139.5,139.4,139.3,139.2,139.1,139,138.9,138.8,138.7,138.6,138.5,138.4,138.3,138.2,138.1,138,137.9,137.8,137.7,137.6,137.5,137.4,137.3,137.2,137.1,137,136.9,136.8,136.7,136.6,136.5,136.4,136.3,136.2,136.1,136,135.9,135.8,135.7,135.6,135.5,135.4,135.3,135.2,135.1,135,134.9,134.8,134.7,134.6,134.5,134.4,134.3,134.2,134.1,134,133.9,133.8,133.7,133.6,133.5],
            "tickCount": 400,
            "labels": false,
            "grid": false,
            "tickSize": {"condition": {"test": "abs(datum.value*10 - round(datum.value)*10 - 4) < 0.5", "value": 12}, "value": 7},
            "tickColor": "#404040",
            "tickWidth": 1,
            "domainColor": "#404040",
            "domainWidth": 1.2,
            "title": "(ppm)",
            "titleFont": "Lato",
            "titleFontSize": 24,
            "titleFontWeight": "normal",
            "titleColor": "#000000",
            "titleX": 581,
            "titleY": 89,
            "titleAlign": "center",
            "titleBaseline": "middle",
            "titleAngle": 0
          }
        },
        "y": {"field": "intensity", "type": "quantitative", "scale": {"domain": [0, 876], "nice": false, "zero": false}, "axis": null},
        "detail": {"field": "sample", "type": "nominal"}
      }
    },
    {
      "data": {"name": "brackets"},
      "mark": {"type": "rule", "color": "#202020", "strokeWidth": 2},
      "encoding": {
        "x": {"field": "from", "type": "quantitative", "scale": {"domain": [133.4, 151.4], "reverse": true, "nice": false, "zero": false}},
        "x2": {"field": "to"},
        "y": {"field": "top", "type": "quantitative", "scale": {"domain": [0, 876], "nice": false, "zero": false}}
      }
    },
    {
      "data": {"name": "brackets"},
      "mark": {"type": "rule", "color": "#202020", "strokeWidth": 2},
      "encoding": {
        "x": {"field": "from", "type": "quantitative", "scale": {"domain": [133.4, 151.4], "reverse": true, "nice": false, "zero": false}},
        "y": {"field": "top", "type": "quantitative", "scale": {"domain": [0, 876], "nice": false, "zero": false}},
        "y2": {"field": "bottom"}
      }
    },
    {
      "data": {"name": "brackets"},
      "mark": {"type": "rule", "color": "#202020", "strokeWidth": 2},
      "encoding": {
        "x": {"field": "to", "type": "quantitative", "scale": {"domain": [133.4, 151.4], "reverse": true, "nice": false, "zero": false}},
        "y": {"field": "top", "type": "quantitative", "scale": {"domain": [0, 876], "nice": false, "zero": false}},
        "y2": {"field": "bottom"}
      }
    },
    {
      "data": {"name": "regionLabels"},
      "mark": {"type": "text", "angle": 270, "align": "left", "baseline": "middle", "font": "Lato", "fontSize": 24, "color": "#000000"},
      "encoding": {
        "x": {"field": "ppm", "type": "quantitative", "scale": {"domain": [133.4, 151.4], "reverse": true, "nice": false, "zero": false}},
        "y": {"field": "intensity", "type": "quantitative", "scale": {"domain": [0, 876], "nice": false, "zero": false}},
        "text": {"field": "text"}
      }
    },
    {
      "data": {"name": "standard"},
      "mark": {"type": "text", "align": "left", "baseline": "alphabetic", "font": "Lato", "fontSize": 25, "color": "#000000"},
      "encoding": {
        "x": {"field": "ppm", "type": "quantitative", "scale": {"domain": [133.4, 151.4], "reverse": true, "nice": false, "zero": false}},
        "y": {"field": "intensity", "type": "quantitative", "scale": {"domain": [0, 876], "nice": false, "zero": false}},
        "text": {"field": "text"}
      }
    },
    {
      "data": {"name": "standard"},
      "mark": {"type": "rule", "color": "#000000", "strokeWidth": 2},
      "encoding": {
        "x": {"field": "fromPpm", "type": "quantitative", "scale": {"domain": [133.4, 151.4], "reverse": true, "nice": false, "zero": false}},
        "x2": {"field": "tipPpm"},
        "y": {"field": "fromIntensity", "type": "quantitative", "scale": {"domain": [0, 876], "nice": false, "zero": false}},
        "y2": {"field": "tipIntensity"}
      }
    },
    {
      "data": {"name": "standard"},
      "mark": {"type": "point", "shape": "M0,-1L-0.7,1L0.7,1Z", "filled": true, "color": "#000000", "size": 324, "opacity": 1},
      "encoding": {
        "x": {"field": "tipPpm", "type": "quantitative", "scale": {"domain": [133.4, 151.4], "reverse": true, "nice": false, "zero": false}},
        "y": {"field": "tipIntensity", "type": "quantitative", "scale": {"domain": [0, 876], "nice": false, "zero": false}},
        "angle": {"field": "angle", "type": "quantitative", "scale": null}
      }
    },
    {
      "data": {"name": "sampleLabels"},
      "mark": {"type": "text", "align": "left", "baseline": "alphabetic", "font": "Lato", "fontSize": 26, "fontStyle": "italic", "color": "#000000"},
      "encoding": {
        "x": {"field": "ppm", "type": "quantitative", "scale": {"domain": [133.4, 151.4], "reverse": true, "nice": false, "zero": false}},
        "y": {"field": "intensity", "type": "quantitative", "scale": {"domain": [0, 876], "nice": false, "zero": false}},
        "text": {"field": "text"}
      }
    },
    {
      "data": {"name": "tickLabels"},
      "mark": {"type": "text", "align": "center", "baseline": "alphabetic", "font": "Lato", "fontSize": 24, "color": "#000000"},
      "encoding": {
        "x": {"field": "ppm", "type": "quantitative", "scale": {"domain": [133.4, 151.4], "reverse": true, "nice": false, "zero": false}},
        "y": {"datum": -42, "type": "quantitative", "scale": {"domain": [0, 876], "nice": false, "zero": false}},
        "text": {"field": "t"}
      }
    }
  ]
}
